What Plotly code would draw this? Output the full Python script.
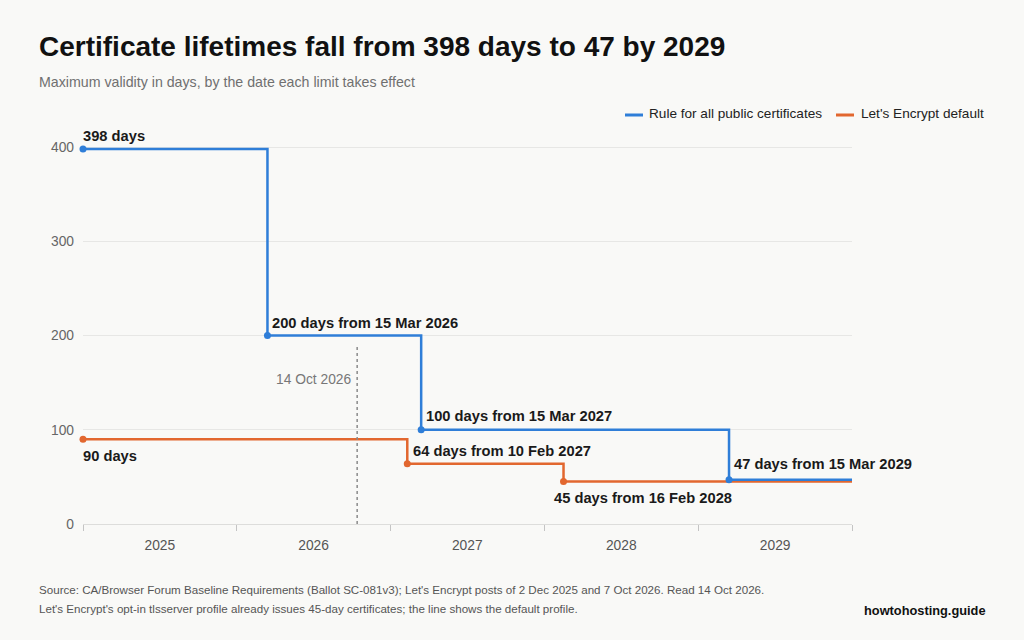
import plotly.graph_objects as go

# Data
rule_dates = ["2025-01-01", "2026-03-15", "2027-03-15", "2029-03-15"]
rule_days = [398, 200, 100, 47]
le_dates = ["2025-01-01", "2027-02-10", "2028-02-16"]
le_days = [90, 64, 45]
end_date = "2030-01-01"
marker_date = "2026-10-14"
marker_label = "14 Oct 2026"

rule_name = "Rule for all public certificates"
le_name = "Let's Encrypt default"
rule_labels = ["398 days", "200 days from 15 Mar 2026", "100 days from 15 Mar 2027", "47 days from 15 Mar 2029"]
le_labels = ["90 days", "64 days from 10 Feb 2027", "45 days from 16 Feb 2028"]

BLUE = "#2f7ed8"
ORANGE = "#e2672f"
BG = "#f9f9f7"
FONT = "Liberation Sans, Arial, Helvetica, sans-serif"

fig = go.Figure()

fig.add_trace(go.Scatter(x=le_dates + [end_date], y=le_days + [le_days[-1]], mode="lines",
                         line=dict(color=ORANGE, width=2.5, shape="hv"), name=le_name, showlegend=False))
fig.add_trace(go.Scatter(x=rule_dates + [end_date], y=rule_days + [rule_days[-1]], mode="lines",
                         line=dict(color=BLUE, width=2.5, shape="hv"), name=rule_name, showlegend=False))
fig.add_trace(go.Scatter(x=le_dates, y=le_days, mode="markers", marker=dict(color=ORANGE, size=7),
                         showlegend=False, hoverinfo="skip", cliponaxis=False))
fig.add_trace(go.Scatter(x=rule_dates, y=rule_days, mode="markers", marker=dict(color=BLUE, size=7),
                         showlegend=False, hoverinfo="skip", cliponaxis=False))

# Reference line
fig.add_shape(type="line", x0=marker_date, x1=marker_date, y0=0, y1=188, xref="x", yref="y",
              line=dict(color="#8a8a8a", width=1.5, dash="dot"))
fig.add_annotation(x=marker_date, y=153, text=marker_label, showarrow=False, xanchor="right",
                   xshift=-4, font=dict(size=13.8, color="#777", family=FONT))

# Data labels: (x, y, text, yshift, xshift)
lab_specs = [
    (rule_dates[0], rule_days[0], rule_labels[0], 13, -2),
    (rule_dates[1], rule_days[1], rule_labels[1], 13, 3),
    (rule_dates[2], rule_days[2], rule_labels[2], 14, 3),
    (rule_dates[3], rule_days[3], rule_labels[3], 16, 3),
    (le_dates[0], le_days[0], le_labels[0], -17, -2),
    (le_dates[1], le_days[1], le_labels[1], 13, 4),
    (le_dates[2], le_days[2], le_labels[2], -16, -12),
]
for x, y, t, ys, xs in lab_specs:
    fig.add_annotation(x=x, y=y, text="<b>%s</b>" % t, showarrow=False, xanchor="left",
                       yanchor="middle", yshift=ys, xshift=xs,
                       font=dict(size=14.7, color="#1a1a1a", family=FONT))

W = 769.0
top = 133
H = 524 - top
def px(p):
    return (p - 83) / W
def py(p):
    return (524 - p) / H

# Legend (manual, to match short swatches)
for (x0, x1, tx, col, name) in [(625, 643, 647, BLUE, rule_name), (836, 854, 859, ORANGE, le_name)]:
    fig.add_shape(type="line", xref="paper", yref="paper", x0=px(x0), x1=px(x1), y0=py(115), y1=py(115),
                  line=dict(color=col, width=3))
    fig.add_annotation(xref="paper", yref="paper", x=px(tx), y=py(114), text=name, showarrow=False,
                       xanchor="left", yanchor="middle", font=dict(size=13.6, color="#222", family=FONT))

# Title, subtitle, footer
fig.add_annotation(xref="paper", yref="paper", x=px(37), y=py(46), text="<b>Certificate lifetimes fall from 398 days to 47 by 2029</b>",
                   showarrow=False, xanchor="left", yanchor="middle", font=dict(size=28, color="#111", family=FONT))
fig.add_annotation(xref="paper", yref="paper", x=px(37), y=py(82), text="Maximum validity in days, by the date each limit takes effect",
                   showarrow=False, xanchor="left", yanchor="middle", font=dict(size=14.2, color="#707070", family=FONT))
fig.add_annotation(xref="paper", yref="paper", x=px(37), y=py(589), text="Source: CA/Browser Forum Baseline Requirements (Ballot SC-081v3); Let's Encrypt posts of 2 Dec 2025 and 7 Oct 2026. Read 14 Oct 2026.",
                   showarrow=False, xanchor="left", yanchor="middle", font=dict(size=11.6, color="#555", family=FONT))
fig.add_annotation(xref="paper", yref="paper", x=px(37), y=py(608), text="Let's Encrypt's opt-in tlsserver profile already issues 45-day certificates; the line shows the default profile.",
                   showarrow=False, xanchor="left", yanchor="middle", font=dict(size=11.6, color="#555", family=FONT))
fig.add_annotation(xref="paper", yref="paper", x=px(988), y=py(610), text="<b>howtohosting.guide</b>",
                   showarrow=False, xanchor="right", yanchor="middle", font=dict(size=12.8, color="#111", family=FONT))

fig.update_layout(
    width=1024, height=640,
    margin=dict(l=83, r=172, t=top, b=116, autoexpand=False),
    paper_bgcolor=BG, plot_bgcolor=BG,
    font=dict(family=FONT, color="#555"),
    showlegend=False,
    xaxis=dict(type="date", range=["2025-01-01", "2030-01-01"], dtick="M12", tick0="2025-01-01",
               ticklabelmode="period", tickformat="%Y", showgrid=False, ticks="outside", ticklen=6,
               tickcolor="#c4c4c4", showline=False, zeroline=False, ticklabelstandoff=2,
               tickfont=dict(size=13.8, color="#555"), fixedrange=True),
    yaxis=dict(range=[0, 415], tickvals=[0, 100, 200, 300, 400], showgrid=True, gridcolor="#e7e7e5",
               gridwidth=1, zeroline=True, zerolinecolor="#dddddb", zerolinewidth=1, showline=False,
               ticks="", tickfont=dict(size=13.8, color="#666"), ticklabelstandoff=8, fixedrange=True),
)

fig.write_html("out.html")
